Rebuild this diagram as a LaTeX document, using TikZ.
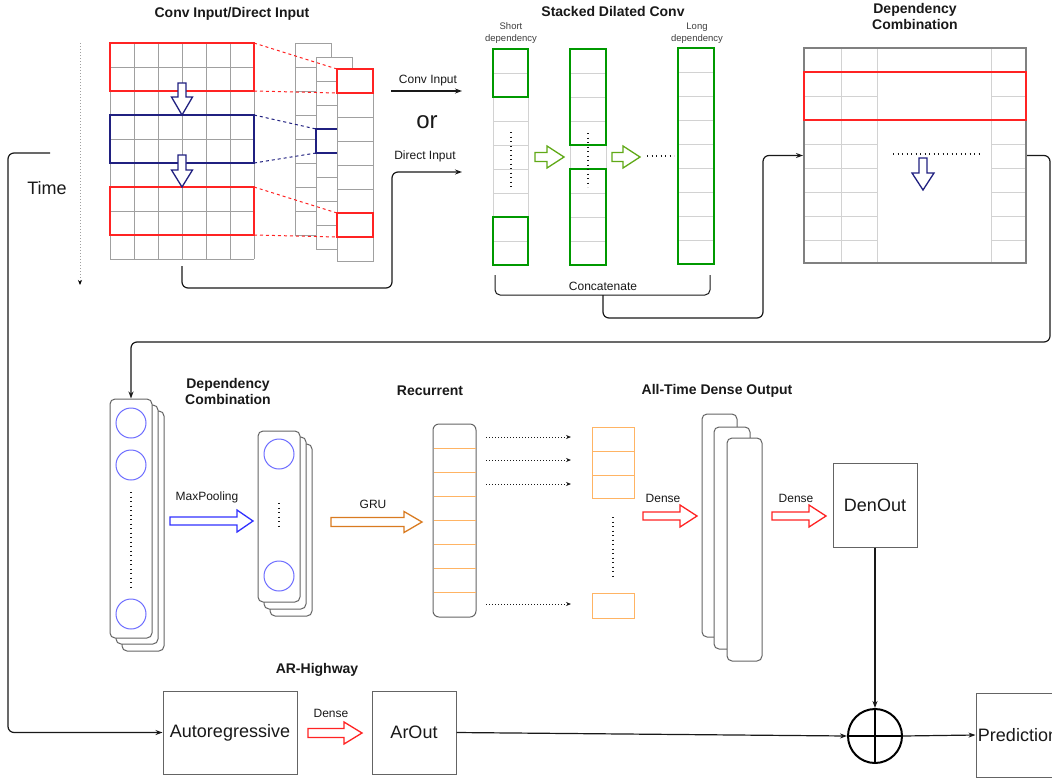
\documentclass[tikz,border=0pt]{standalone}
\usepackage{fontspec}
\setmainfont{Liberation Sans}
\usetikzlibrary{arrows.meta,calc}
\definecolor{navy}{RGB}{32,32,128}
\definecolor{myred}{RGB}{255,35,35}
\definecolor{dgreen}{RGB}{0,153,0}
\definecolor{lgreen}{RGB}{96,169,23}
\definecolor{cblue}{RGB}{110,110,255}
\definecolor{mpblue}{RGB}{50,50,255}
\definecolor{gruor}{RGB}{217,123,33}
\definecolor{lor}{RGB}{255,180,100}
\definecolor{gline}{RGB}{160,160,160}
\definecolor{lline}{RGB}{210,210,210}
\definecolor{bordg}{RGB}{100,100,100}
\definecolor{txt}{RGB}{25,25,25}

% x1 x2 y shafthalf headhalf headlen colour
\newcommand\harrowshape[7]{%
 \draw[#7, line width=1.3pt, fill=white, line join=miter] (#1,#3-#4) -- (#2-#6,#3-#4) -- (#2-#6,#3-#5) -- (#2,#3) -- (#2-#6,#3+#5) -- (#2-#6,#3+#4) -- (#1,#3+#4) -- cycle;}
% x y1 y2 shafthalf headhalf headlen colour
\newcommand\varrowshape[7]{%
 \draw[#7, line width=1.3pt, fill=white, line join=miter] (#1-#4,#2) -- (#1-#4,#3-#6) -- (#1-#5,#3-#6) -- (#1,#3) -- (#1+#5,#3-#6) -- (#1+#4,#3-#6) -- (#1+#4,#2) -- cycle;}

\begin{document}
\begin{tikzpicture}[x=1pt,y=-1pt,
  conn/.style={line width=1.2pt, rounded corners=6pt, draw=txt},
  tip/.style={-{Stealth[length=7pt,width=5pt]}},
  ttl/.style={font=\bfseries\fontsize{14}{16}\selectfont, align=center, text=txt},
  lbl/.style={font=\fontsize{12}{14}\selectfont, text=txt},
  small/.style={font=\fontsize{9.5}{12}\selectfont, align=center, text=darkgray},
  big/.style={font=\fontsize{18}{20}\selectfont, text=txt},
  sbox/.style={draw=bordg, line width=1pt, inner sep=0pt},
  stackr/.style={draw=bordg, line width=1pt, fill=white, rounded corners=5pt},
  ccl/.style={circle, draw=cblue, line width=1pt, minimum size=30pt, inner sep=0pt},
  dots/.style={dash pattern=on 1.1pt off 3.4pt, line width=1.1pt, draw=txt},
  darr/.style={dash pattern=on 1pt off 2pt, line width=0.9pt, draw=txt, -{Stealth[length=5pt,width=4pt]}},
]
\useasboundingbox (0,0) rectangle (1052,780);
\clip (0,0) rectangle (1052,780);
\fill[white] (0,0) rectangle (1052,780);

% ---------- titles
\node[ttl] (t1) at (232,14) {Conv Input/Direct Input};
\node[ttl] (t2) at (613,11) {Stacked Dilated Conv};
\node[ttl] (t3) at (915,16) {Dependency\\Combination};
\node[ttl] (t4) at (228,391) {Dependency\\Combination};
\node[ttl] (t5) at (430,391) {Recurrent};
\node[ttl] (t6) at (717,391) {All-Time Dense Output};
\node[ttl] (t7) at (317,670) {AR-Highway};

% ---------- time axis
\node[big] (time) at (47,188) {Time};
\coordinate (ta) at (80,43);
\coordinate (tb) at (80,285);
\draw[dash pattern=on 1pt off 2pt, gline, line width=1pt, -{Stealth[length=5pt,width=4pt,black]}] (ta) -- (tb);

% ---------- input grid
\node[inner sep=0pt, minimum width=144pt, minimum height=216pt] (grid) at (182,151) {};
\foreach \i in {0,...,6} \draw[gline, line width=0.9pt] (110+24*\i,43) -- (110+24*\i,259);
\foreach \j in {0,...,9} \draw[gline, line width=0.9pt] (110,43+24*\j) -- (254,43+24*\j);
\draw[myred, line width=1.3pt] (110,43) rectangle (254,91);
\draw[myred, line width=1.3pt] (110,187) rectangle (254,235);
\draw[navy, line width=1.3pt] (110,115) rectangle (254,163);
\varrowshape{182}{83}{115}{4}{10.5}{18}{navy}
\varrowshape{182}{155}{187}{4}{10.5}{17}{navy}

% stacked feature columns
\foreach \j in {0,...,7} \draw[gline, line width=0.9pt, fill=white] (295,43+24*\j) rectangle (331,67+24*\j);
\foreach \j in {0,...,7} \draw[gline, line width=0.9pt, fill=white] (316,57+24*\j) rectangle (352,81+24*\j);
\foreach \j in {0,...,7} \draw[gline, line width=0.9pt, fill=white] (337,69+24*\j) rectangle (373,93+24*\j);
\draw[myred, line width=1.3pt] (337,69) rectangle (373,93);
\draw[myred, line width=1.3pt] (337,213) rectangle (373,237);
\draw[navy, line width=1.3pt] (337,129) -- (316,129) -- (316,153) -- (337,153);
\draw[myred, dashed, line width=1pt] (254,43) -- (337,69);
\draw[myred, dashed, line width=1pt] (254,91) -- (337,93);
\draw[myred, dashed, line width=1pt] (254,187) -- (337,213);
\draw[myred, dashed, line width=1pt] (254,235) -- (337,237);
\draw[navy, dashed, line width=1pt] (254,115) -- (316,129);
\draw[navy, dashed, line width=1pt] (254,163) -- (316,153);

% ---------- conv / direct input
\coordinate (ci1) at (391,91);
\coordinate (ci2) at (462,91);
\draw[conn, tip] (ci1) -- (ci2);
\node[lbl] (lci) at (428,81) {Conv Input};
\node[font=\fontsize{24}{26}\selectfont, text=txt] (lor) at (427,122) {or};
\node[lbl] (ldi) at (425,156) {Direct Input};
\coordinate (di) at (462,172);
\draw[conn, tip] ($(grid.south)+(0,7)$) -- (182,288) -- (392,288) -- (392,172) -- (di);

% ---------- stacked dilated conv
\node[small] (sd) at (511,33) {Short\\dependency};
\node[small] (ld) at (697,33) {Long\\dependency};
\foreach \j in {0,...,8} \draw[lline, line width=0.9pt] (493,49+24*\j) rectangle (528,73+24*\j);
\draw[dgreen, line width=1.6pt] (493,49) rectangle (528,97);
\draw[dgreen, line width=1.6pt] (493,217) rectangle (528,265);
\draw[dots] (511,132) -- (511,187);
\foreach \j in {0,...,8} \draw[lline, line width=0.9pt] (570,49+24*\j) rectangle (606,73+24*\j);
\draw[dgreen, line width=1.6pt] (570,49) rectangle (606,145);
\draw[dgreen, line width=1.6pt] (570,169) rectangle (606,265);
\draw[dots] (588,133) -- (588,187);
\foreach \j in {0,...,8} \draw[lline, line width=0.9pt] (678,48+24*\j) rectangle (714,72+24*\j);
\draw[dgreen, line width=1.6pt] (678,48) rectangle (714,264);
\harrowshape{535}{564}{157}{4.5}{11}{17}{lgreen}
\harrowshape{612}{640}{157}{4.5}{11}{17}{lgreen}
\draw[dots] (647,156) -- (674,156);

% brace
\draw[line width=1pt, draw=txt, rounded corners=5pt] (495,275) -- (495,295) -- (710,295) -- (710,275);
\node[lbl] (lcc) at (603,286) {Concatenate};
\coordinate (brm) at (603,295);

% ---------- dependency combination (top)
\foreach \x in {841,877,991} \draw[lline, line width=1pt] (\x,48) -- (\x,263);
\foreach \j in {1,...,8} {
  \draw[lline, line width=1pt] (804,48+24*\j) -- (877,48+24*\j);
  \draw[lline, line width=1pt] (991,48+24*\j) -- (1026,48+24*\j);
}
\node[draw=gray, line width=2pt, minimum width=222pt, minimum height=215pt, inner sep=0pt] (dep) at (915,155.5) {};
\draw[myred, line width=1.6pt] (804,72) rectangle (1026,120);
\draw[dots] (893,154) -- (979,154);
\varrowshape{923}{158}{190}{4}{11}{17}{navy}

\draw[conn, tip] (brm) -- (603,318) -- (763,318) |- (dep.west);

% ---------- stack 1
\draw[stackr] (122,411) rectangle (164,651);
\draw[stackr] (116,405) rectangle (158,644);
\node[stackr, minimum width=42pt, minimum height=239pt, inner sep=0pt] (s1) at (131,518.5) {};
\node[ccl] (c11) at (131,423) {};
\node[ccl] (c12) at (131,465) {};
\node[ccl] (c13) at (131,614) {};
\draw[dots] (131,492) -- (131,587);

\draw[conn, tip] (dep.east) -- (1050,155.5) -- (1050,342) -| (s1.north);

% maxpooling
\node[lbl] (lmp) at (207,497) {MaxPooling};
\harrowshape{170}{253}{521}{4}{11}{16}{mpblue}

% ---------- stack 2
\draw[stackr] (270,444) rectangle (312,616);
\draw[stackr] (264,437) rectangle (306,609);
\node[stackr, minimum width=42pt, minimum height=171pt, inner sep=0pt] (s2) at (279,516.5) {};
\node[ccl] (c21) at (279,454) {};
\node[ccl] (c22) at (279,576) {};
\draw[dots] (279,503) -- (279,527);

% GRU
\node[lbl] (lgru) at (373,504) {GRU};
\harrowshape{331}{422}{522}{4.5}{10.5}{18}{gruor}

% ---------- recurrent
\node[draw=bordg, line width=1pt, rounded corners=6pt, minimum width=43pt, minimum height=193pt, inner sep=0pt] (rec) at (454.5,520.5) {};
\foreach \j in {1,...,7} \draw[lor, line width=1pt] (433.5,424+24*\j) -- (475.5,424+24*\j);

\foreach \y/\n in {437/a,460/b,484/c,604/d} {
  \coordinate (ra\n) at (486,\y);
  \coordinate (rb\n) at (571,\y);
  \draw[darr] (ra\n) -- (rb\n);
}
\draw[lor, line width=1pt] (592,427) rectangle (634,451);
\draw[lor, line width=1pt] (592,451) rectangle (634,475);
\draw[lor, line width=1pt] (592,475) rectangle (634,498);
\draw[lor, line width=1pt] (592,593) rectangle (634,618);
\draw[dots] (613,517) -- (613,579);

% dense 1
\node[lbl] (ld1) at (663,498) {Dense};
\harrowshape{643}{697}{516}{4}{11}{17}{myred}

% ---------- all-time dense output
\draw[stackr] (702,414) rectangle (737,637);
\draw[stackr] (714,427) rectangle (750,649);
\node[stackr, minimum width=35pt, minimum height=223pt, inner sep=0pt] (ds) at (744.5,549.5) {};

% dense 2
\node[lbl] (ld2) at (796,498) {Dense};
\harrowshape{772}{826}{516}{4}{11}{17}{myred}

\node[sbox, big, minimum width=84pt, minimum height=84pt] (den) at (875,505) {DenOut};

% ---------- AR highway
\node[sbox, big, minimum width=134pt, minimum height=83pt] (ar) at (230,732.5) {Autoregressive};
\node[lbl] (ld3) at (331,713) {Dense};
\harrowshape{308}{362}{733}{4.5}{11}{18}{myred}
\node[sbox, big, minimum width=84pt, minimum height=83pt] (aro) at (414,732.5) {ArOut};

\node[circle, draw=black, line width=2pt, minimum size=54pt, inner sep=0pt] (sum) at (875,736) {};
\draw[line width=2pt] (sum.north) -- (sum.south);
\draw[line width=2pt] (sum.west) -- (sum.east);

\node[sbox, big, minimum width=84pt, minimum height=84pt] (pred) at (1018,735) {Prediction};

\coordinate (lstart) at (50,153);
\draw[conn, tip] (lstart) -- (8,153) |- (ar.west);
\draw[conn, tip] (den.south) -- (sum.north);
\draw[conn, tip] (aro.east) -- (sum.west);
\draw[conn, tip] (sum.east) -- (pred.west);
\end{tikzpicture}
\end{document}
